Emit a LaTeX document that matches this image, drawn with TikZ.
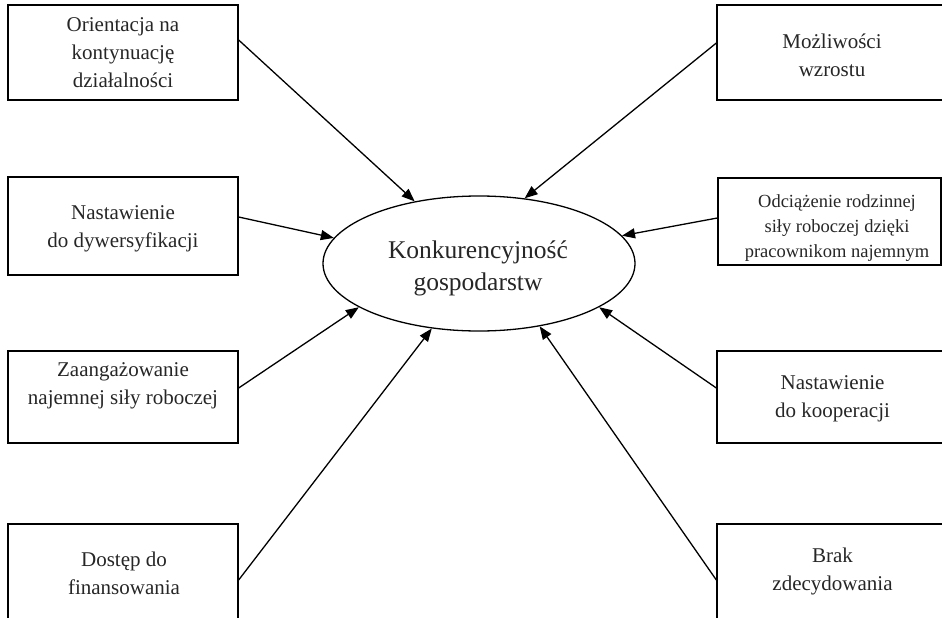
\documentclass[tikz,border=0pt]{standalone}
\usepackage{fontspec}
\setmainfont{Liberation Serif}
\usetikzlibrary{shapes.geometric,arrows.meta}
\tikzset{
  boxshape/.style={draw, line width=1.3pt, rectangle, inner sep=0pt},
  txt/.style={align=center, inner sep=0pt, font=\fontsize{21}{28}\selectfont, text=black!85},
  smalltxt/.style={align=center, inner sep=0pt, font=\fontsize{18.5}{25}\selectfont, text=black!85},
  maintxt/.style={align=center, inner sep=0pt, font=\fontsize{25.5}{32}\selectfont, text=black!85},
  ell/.style={draw, ellipse, line width=1.3pt, inner sep=0pt, minimum width=312pt, minimum height=135pt},
  conn/.style={line width=1.3pt, -{Triangle[length=13pt,width=10pt]}}
}
\begin{document}
\begin{tikzpicture}[x=1pt,y=-1pt]
\useasboundingbox (0,0) rectangle (942,618);
\clip (0,0) rectangle (942,618);
% boxes
\node[boxshape, minimum width=230pt, minimum height=95pt] (l1) at (123,52.5) {};
\node[boxshape, minimum width=230pt, minimum height=98pt] (l2) at (123,226) {};
\node[boxshape, minimum width=230pt, minimum height=92pt] (l3) at (123,397) {};
\node[boxshape, minimum width=230pt, minimum height=126pt] (l4) at (123,587) {};
\node[boxshape, minimum width=230pt, minimum height=95pt] (r1) at (832,52.5) {};
\node[boxshape, minimum width=223pt, minimum height=87pt] (r2) at (829.5,221.5) {};
\node[boxshape, minimum width=230pt, minimum height=92pt] (r3) at (832,397) {};
\node[boxshape, minimum width=230pt, minimum height=126pt] (r4) at (832,587) {};
% texts
\node[txt] (l1t) at (123,53) {Orientacja na\\kontynuację\\działalności};
\node[txt] (l2t) at (123,228.5) {Nastawienie\\do dywersyfikacji};
\node[txt] (l3t) at (123,386) {Zaangażowanie\\najemnej siły roboczej};
\node[txt] (l4t) at (124,573) {Dostęp do\\finansowania};
\node[txt] (r1t) at (832,55) {Możliwości\\wzrostu};
\node[smalltxt] (r2t) at (837,228) {Odciążenie rodzinnej\\siły roboczej dzięki\\pracownikom najemnym};
\node[txt] (r3t) at (832.5,398.5) {Nastawienie\\do kooperacji};
\node[txt] (r4t) at (832.5,571.5) {Brak\\zdecydowania};
% ellipse
\node[ell] (c) at (479,263.5) {};
\node[maintxt] (ct) at (478,268) {Konkurencyjność\\gospodarstw};
% connectors
\draw[conn] ([yshift=12.5pt]l1.east) -- (c.136.5);
\draw[conn] ([yshift=9pt]l2.east) -- (c.170.1);
\draw[conn] ([yshift=9pt]l3.east) -- (c.200.6);
\draw[conn] ([yshift=7pt]l4.east) -- (c.234.4);
\draw[conn] ([yshift=9.5pt]r1.west) -- (c.55.3);
\draw[conn] ([yshift=3.5pt]r2.west) -- (c.11.6);
\draw[conn] ([yshift=9pt]r3.west) -- (c.340.5);
\draw[conn] ([yshift=7pt]r4.west) -- (c.314.8);
\end{tikzpicture}
\end{document}
